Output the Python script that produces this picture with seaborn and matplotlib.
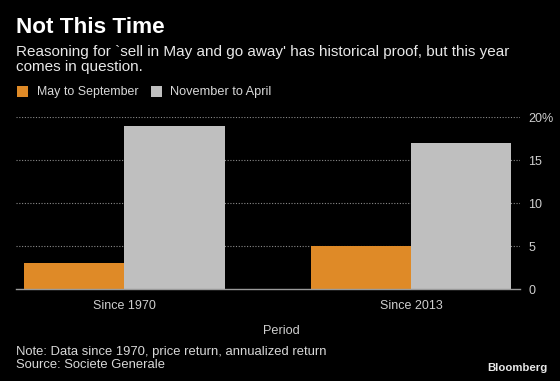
import matplotlib
matplotlib.use("Agg")
import matplotlib.pyplot as plt
import seaborn as sns
import pandas as pd
from matplotlib.patches import Rectangle

# ---- data ----
periods = ["Since 1970", "Since 2013"]
series_names = ["May to September", "November to April"]
may_to_sep = [3.0, 5.0]
nov_to_apr = [19.0, 17.0]
y_ticks = [0, 5, 10, 15, 20]
y_tick_labels = ["0", "5", "10", "15", "20%"]

title = "Not This Time"
subtitle1 = "Reasoning for `sell in May and go away' has historical proof, but this year"
subtitle2 = "comes in question."
x_label = "Period"
note = "Note: Data since 1970, price return, annualized return"
source = "Source: Societe Generale"
brand = "Bloomberg"

ORANGE = "#DF8A27"
GRAY = "#BFBFBF"
BG = "black"

df = pd.DataFrame({
    "Period": periods * 2,
    "Return": may_to_sep + nov_to_apr,
    "Season": [series_names[0]] * len(periods) + [series_names[1]] * len(periods),
})

sns.set_theme(style="white")
plt.rcParams["font.family"] = ["Liberation Sans", "DejaVu Sans"]

W, H = 560, 381
fig = plt.figure(figsize=(W / 100, H / 100), dpi=100, facecolor=BG)
renderer = fig.canvas.get_renderer()


def fx(px):
    return px / W


def fy(py):
    return 1 - py / H


def fit(t, target_px):
    bb = t.get_window_extent(renderer)
    t.set_fontsize(t.get_fontsize() * target_px / bb.width)
    return t


ax = fig.add_axes([fx(16), fy(289), (520 - 16) / W, (289 - 117.3) / H])
ax.set_facecolor(BG)

sns.barplot(data=df, x="Period", y="Return", hue="Season",
            palette=[ORANGE, GRAY], width=0.7, saturation=1,
            ax=ax, legend=False, linewidth=0, zorder=3)

ax.set_xlim(-0.378, 1.38)
ax.set_ylim(0, 20)
ax.set_yticks(y_ticks)
ax.set_yticklabels(y_tick_labels)
ax.yaxis.tick_right()
ax.tick_params(axis="y", length=0, pad=6, labelsize=9, labelcolor="#CFCFCF")
ax.tick_params(axis="x", length=3, width=0.8, color="#9A9A9A", pad=5,
               labelsize=9, labelcolor="#CFCFCF", direction="out")
ax.set_xlabel("")
ax.set_ylabel("")
ax.grid(axis="y", color="#8A8A8A", linestyle=(0, (1, 1.5)), linewidth=0.8, zorder=0)
ax.grid(axis="x", visible=False)
ax.set_axisbelow(True)
for s in ["left", "right", "top"]:
    ax.spines[s].set_visible(False)
ax.spines["bottom"].set_color("#9A9A9A")
ax.spines["bottom"].set_linewidth(1.0)
ax.spines["bottom"].set_zorder(4)
ax.yaxis.get_gridlines()[0].set_visible(False)

# ---- texts ----
t = fig.text(fx(16), fy(33), title, color="white", fontweight="bold",
             fontsize=13, va="baseline", ha="left")
fit(t, 148)
t = fig.text(fx(16), fy(56), subtitle1, color="#E8E8E8", fontsize=10,
             va="baseline", ha="left")
fit(t, 495)
fig.text(fx(16), fy(70.5), subtitle2, color="#E8E8E8", fontsize=t.get_fontsize(),
         va="baseline", ha="left")

# legend
leg_items = [(series_names[0], ORANGE, 17, 37, 101.6),
             (series_names[1], GRAY, 151, 170, 101.6)]
for name, col, sx, tx, tw in leg_items:
    fig.patches.append(Rectangle((fx(sx), fy(97)), 11 / W, 11 / H,
                                 transform=fig.transFigure, facecolor=col,
                                 edgecolor="none", figure=fig))
    lt = fig.text(fx(tx), fy(91.5), name, color="#D8D8D8", fontsize=9,
                  va="center", ha="left")
    fit(lt, tw)

fig.text(fx(281), fy(331), x_label, color="#CFCFCF", fontsize=9.2,
         va="center", ha="center")

nt = fig.text(fx(16), fy(352), note, color="#D8D8D8", fontsize=9,
              va="center", ha="left")
fit(nt, 312)
fig.text(fx(16), fy(365.5), source, color="#D8D8D8", fontsize=nt.get_fontsize(),
         va="center", ha="left")

bt = fig.text(fx(547), fy(368), brand, color="#E8E8E8", fontweight="bold",
              fontsize=9, va="center", ha="right")
fit(bt, 60)

fig.savefig("out.png", dpi=100, facecolor=BG)
